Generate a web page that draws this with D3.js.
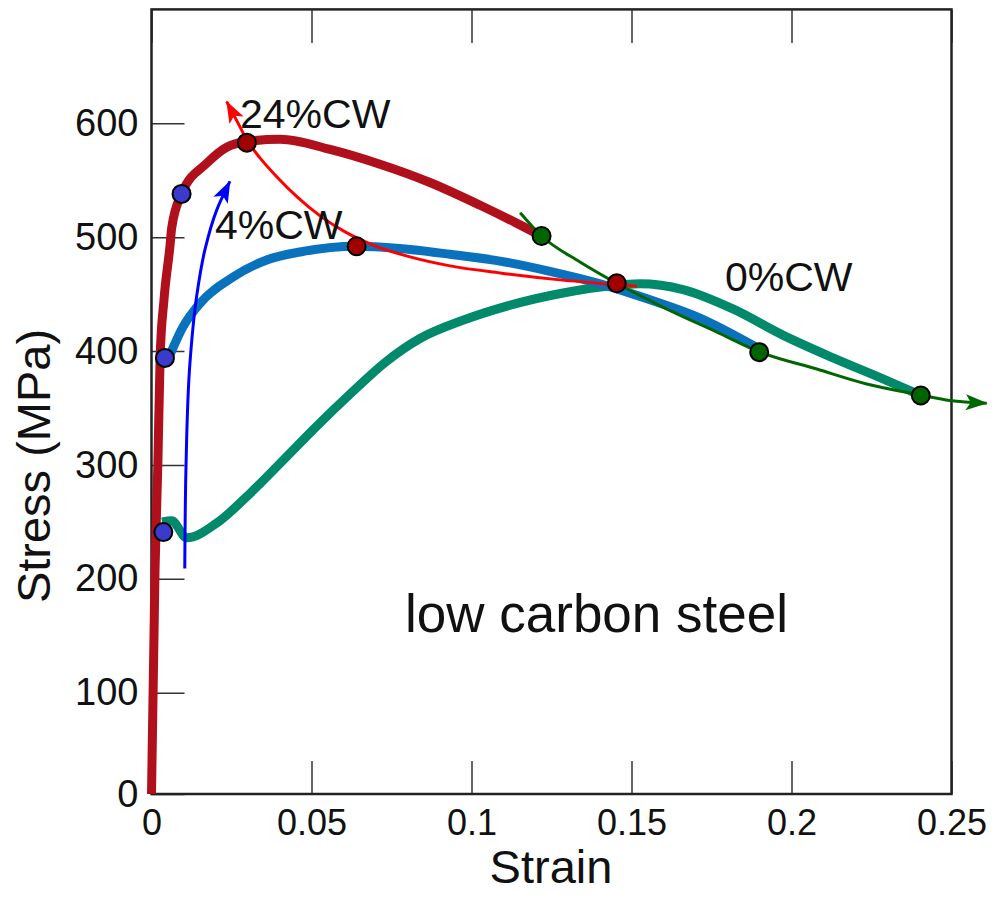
<!DOCTYPE html>
<html>
<head>
<meta charset="utf-8">
<title>Stress-Strain: low carbon steel</title>
<script src="https://d3js.org/d3.v7.min.js"></script>
<style>
    body { margin: 0; background: #fff; }
    svg text { font-family: 'Liberation Sans', Arial, sans-serif; fill: #111; }
    .axis line { stroke: #333; stroke-width: 1.5px; }
    .axis path { display: none; }
</style>
</head>
<body>
<div id="chart"></div>
<script>
// tick values
const strainTicks = [0, 0.05, 0.1, 0.15, 0.2, 0.25];
const stressTicks = [0, 100, 200, 300, 400, 500, 600];

// thick curves [strain, stress]
const cw24 = [[0, 0], [0.0011, 208], [0.0020, 302], [0.0027, 395], [0.0039, 445], [0.0058, 493],
    [0.0063, 508], [0.0094, 538], [0.0173, 565], [0.0235, 579], [0.0298, 584], [0.0402, 586],
    [0.0558, 577], [0.0714, 564], [0.0870, 548], [0.1027, 528], [0.1136, 513], [0.1219, 501]];
const cw4 = [[0.0045, 388], [0.0098, 421], [0.0152, 442], [0.0255, 465], [0.0360, 480],
    [0.0464, 487], [0.0642, 492], [0.0776, 490], [0.0933, 485], [0.1089, 479], [0.1245, 470],
    [0.1402, 459], [0.1558, 445], [0.1714, 429], [0.1899, 402]];
const cw0 = [[0.0033, 250], [0.0063, 251], [0.0110, 236], [0.0204, 249], [0.0308, 275],
    [0.0411, 304], [0.0516, 334], [0.0620, 362], [0.0730, 390], [0.0839, 411], [0.0973, 427],
    [0.1130, 441], [0.1286, 451], [0.1442, 457.6], [0.1527, 459], [0.1661, 454], [0.1817, 437],
    [0.1973, 414], [0.2130, 394], [0.2286, 375.5], [0.2404, 361]];

// thin trend arrows
const arrowRed = [[0.1517, 457], [0.1277, 462.5], [0.1089, 468.6], [0.0933, 474.8], [0.0808, 482.7],
    [0.0698, 492.4], [0.0605, 504.6], [0.0527, 518.7], [0.0455, 535.4], [0.0392, 552.9],
    [0.0339, 569.6], [0.0298, 585.4], [0.0267, 602], [0.0235, 619]];
const arrowBlue = [[0.0104, 209], [0.0108, 301], [0.0120, 389], [0.0141, 448], [0.0167, 489],
    [0.0204, 524], [0.0245, 549]];
const arrowGreen = [[0.1152, 521.5], [0.1219, 501], [0.1339, 478.2], [0.1455, 459.3], [0.1611, 436.9],
    [0.1767, 416.7], [0.1899, 399.4], [0.2079, 384.2], [0.2235, 371.1], [0.2404, 361.4],
    [0.2495, 356.6], [0.2610, 354.1]];

// marked points
const dotsBlue = [[0.0042, 394], [0.0037, 241], [0.0094, 538]];
const dotsRed = [[0.0298, 583], [0.0641, 492], [0.1454, 459.5]];
const dotsGreen = [[0.1219, 501], [0.1899, 399], [0.2404, 361]];

const W = 992, H = 899;

const svg = d3.select("#chart").append("svg")
    .attr("width", W)
    .attr("height", H);

const x = d3.scaleLinear().domain([0, 0.25]).range([151.5, 951.5]);
// the printed axis has 0 a bit closer to 100 than the other steps
const y = d3.scaleLinear().domain([0, 100, 700]).range([794, 692.7, 9.4]);

const line = d3.line()
    .x(d => x(d[0]))
    .y(d => y(d[1]))
    .curve(d3.curveMonotoneX);

const lineV = d3.line()
    .x(d => x(d[0]))
    .y(d => y(d[1]))
    .curve(d3.curveMonotoneY);

// arrow markers
const defs = svg.append("defs");
[["red", "#ff0000"], ["blue", "#0000ff"], ["green", "#006600"]].forEach(([id, c]) => {
    defs.append("marker")
        .attr("id", "arrow-" + id)
        .attr("markerUnits", "userSpaceOnUse")
        .attr("viewBox", "0 0 22 16")
        .attr("markerWidth", 22)
        .attr("markerHeight", 16)
        .attr("refX", 21)
        .attr("refY", 8)
        .attr("orient", "auto")
        .append("path")
        .attr("d", "M0,0 L22,8 L0,16 L5,8 Z")
        .attr("fill", c);
});

// axes
svg.append("g")
    .attr("class", "axis")
    .attr("transform", "translate(0,794)")
    .call(d3.axisBottom(x).tickValues(strainTicks).tickSize(-33).tickPadding(15)
        .tickFormat(d => d === 0 ? "0" : String(d)))
    .selectAll("text").style("font-size", "36px");

svg.append("g")
    .attr("class", "axis")
    .attr("transform", "translate(0,10)")
    .call(d3.axisTop(x).tickValues(strainTicks).tickSize(-33).tickFormat(""));

svg.append("g")
    .attr("class", "axis")
    .attr("transform", "translate(151.5,0)")
    .call(d3.axisLeft(y).tickValues(stressTicks).tickSize(-33).tickPadding(13))
    .selectAll("text").style("font-size", "38px");

// frame
svg.append("rect")
    .attr("x", x(0)).attr("y", y(700))
    .attr("width", x(0.25) - x(0))
    .attr("height", y(0) - y(700))
    .attr("fill", "none")
    .attr("stroke", "#222")
    .attr("stroke-width", 2.5);

// thick curves
svg.append("path").datum(cw0).attr("d", line)
    .attr("fill", "none").attr("stroke", "#00896a").attr("stroke-width", 9);
svg.append("path").datum(cw4).attr("d", line)
    .attr("fill", "none").attr("stroke", "#0a72bd").attr("stroke-width", 9);
svg.append("path").datum(cw24).attr("d", line)
    .attr("fill", "none").attr("stroke", "#b0101c").attr("stroke-width", 9);

// thin arrows
svg.append("path").datum(arrowRed).attr("d", line)
    .attr("fill", "none").attr("stroke", "#ff0000").attr("stroke-width", 3)
    .attr("marker-end", "url(#arrow-red)");
svg.append("path").datum(arrowBlue).attr("d", lineV)
    .attr("fill", "none").attr("stroke", "#0000ff").attr("stroke-width", 3)
    .attr("marker-end", "url(#arrow-blue)");
svg.append("path").datum(arrowGreen).attr("d", line)
    .attr("fill", "none").attr("stroke", "#006600").attr("stroke-width", 3)
    .attr("marker-end", "url(#arrow-green)");

// dots
function dots(data, color) {
    svg.append("g").selectAll("circle")
        .data(data)
        .join("circle")
        .attr("cx", d => x(d[0]))
        .attr("cy", d => y(d[1]))
        .attr("r", 9)
        .attr("fill", color)
        .attr("stroke", "#000")
        .attr("stroke-width", 2);
}
dots(dotsBlue, "#3a3acd");
dots(dotsRed, "#a00000");
dots(dotsGreen, "#006400");

// labels
svg.append("text").attr("x", 240).attr("y", 128).style("font-size", "41px").text("24%CW");
svg.append("text").attr("x", 215).attr("y", 239).style("font-size", "41px").text("4%CW");
svg.append("text").attr("x", 725).attr("y", 291).style("font-size", "41px").text("0%CW");
svg.append("text").attr("x", 405).attr("y", 632).style("font-size", "53px").text("low carbon steel");

svg.append("text")
    .attr("x", 551).attr("y", 883)
    .attr("text-anchor", "middle")
    .style("font-size", "47px")
    .text("Strain");

svg.append("text")
    .attr("transform", "translate(50,466) rotate(-90)")
    .attr("text-anchor", "middle")
    .style("font-size", "47px")
    .text("Stress (MPa)");
</script>
</body>
</html>
